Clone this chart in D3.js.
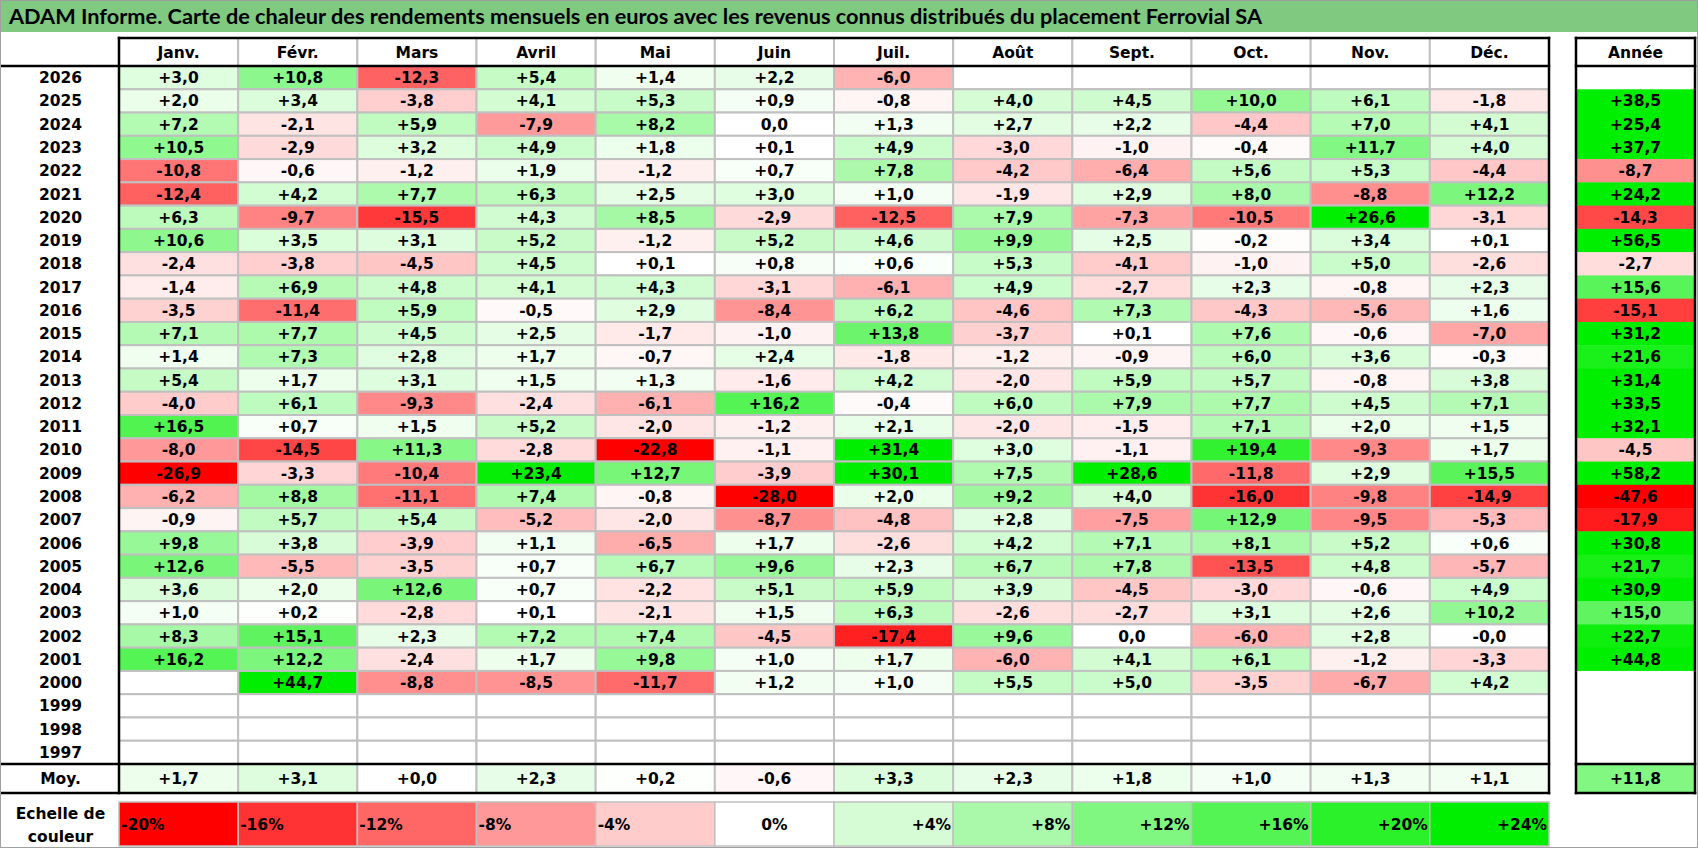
<!DOCTYPE html>
<html>
<head>
<meta charset="utf-8">
<script src="https://cdn.jsdelivr.net/npm/d3@7"></script>
<style>
  body { margin: 0; background: #fff; }
  text { font-family: "DejaVu Sans", Lato, sans-serif; font-weight: bold; fill: #000; }
  text.title { font-family: Lato, "Open Sans", sans-serif; }
</style>
</head>
<body>
<svg id="chart"></svg>
<script>
var title = 'ADAM Informe. Carte de chaleur des rendements mensuels en euros avec les revenus connus distribués du placement Ferrovial SA';

var months = ['Janv.', 'Févr.', 'Mars', 'Avril', 'Mai', 'Juin', 'Juil.', 'Août', 'Sept.', 'Oct.', 'Nov.', 'Déc.'];

var years = [2026, 2025, 2024, 2023, 2022, 2021, 2020, 2019, 2018, 2017,
  2016, 2015, 2014, 2013, 2012, 2011, 2010, 2009, 2008, 2007,
  2006, 2005, 2004, 2003, 2002, 2001, 2000, 1999, 1998, 1997];

// one line per year, same order as years
var monthlyReturns = [
  [3.0, 10.8, -12.3, 5.4, 1.4, 2.2, -6.0, null, null, null, null, null],
  [2.0, 3.4, -3.8, 4.1, 5.3, 0.9, -0.8, 4.0, 4.5, 10.0, 6.1, -1.8],
  [7.2, -2.1, 5.9, -7.9, 8.2, 0, 1.3, 2.7, 2.2, -4.4, 7.0, 4.1],
  [10.5, -2.9, 3.2, 4.9, 1.8, 0.1, 4.9, -3.0, -1.0, -0.4, 11.7, 4.0],
  [-10.8, -0.6, -1.2, 1.9, -1.2, 0.7, 7.8, -4.2, -6.4, 5.6, 5.3, -4.4],
  [-12.4, 4.2, 7.7, 6.3, 2.5, 3.0, 1.0, -1.9, 2.9, 8.0, -8.8, 12.2],
  [6.3, -9.7, -15.5, 4.3, 8.5, -2.9, -12.5, 7.9, -7.3, -10.5, 26.6, -3.1],
  [10.6, 3.5, 3.1, 5.2, -1.2, 5.2, 4.6, 9.9, 2.5, -0.2, 3.4, 0.1],
  [-2.4, -3.8, -4.5, 4.5, 0.1, 0.8, 0.6, 5.3, -4.1, -1.0, 5.0, -2.6],
  [-1.4, 6.9, 4.8, 4.1, 4.3, -3.1, -6.1, 4.9, -2.7, 2.3, -0.8, 2.3],
  [-3.5, -11.4, 5.9, -0.5, 2.9, -8.4, 6.2, -4.6, 7.3, -4.3, -5.6, 1.6],
  [7.1, 7.7, 4.5, 2.5, -1.7, -1.0, 13.8, -3.7, 0.1, 7.6, -0.6, -7.0],
  [1.4, 7.3, 2.8, 1.7, -0.7, 2.4, -1.8, -1.2, -0.9, 6.0, 3.6, -0.3],
  [5.4, 1.7, 3.1, 1.5, 1.3, -1.6, 4.2, -2.0, 5.9, 5.7, -0.8, 3.8],
  [-4.0, 6.1, -9.3, -2.4, -6.1, 16.2, -0.4, 6.0, 7.9, 7.7, 4.5, 7.1],
  [16.5, 0.7, 1.5, 5.2, -2.0, -1.2, 2.1, -2.0, -1.5, 7.1, 2.0, 1.5],
  [-8.0, -14.5, 11.3, -2.8, -22.8, -1.1, 31.4, 3.0, -1.1, 19.4, -9.3, 1.7],
  [-26.9, -3.3, -10.4, 23.4, 12.7, -3.9, 30.1, 7.5, 28.6, -11.8, 2.9, 15.5],
  [-6.2, 8.8, -11.1, 7.4, -0.8, -28.0, 2.0, 9.2, 4.0, -16.0, -9.8, -14.9],
  [-0.9, 5.7, 5.4, -5.2, -2.0, -8.7, -4.8, 2.8, -7.5, 12.9, -9.5, -5.3],
  [9.8, 3.8, -3.9, 1.1, -6.5, 1.7, -2.6, 4.2, 7.1, 8.1, 5.2, 0.6],
  [12.6, -5.5, -3.5, 0.7, 6.7, 9.6, 2.3, 6.7, 7.8, -13.5, 4.8, -5.7],
  [3.6, 2.0, 12.6, 0.7, -2.2, 5.1, 5.9, 3.9, -4.5, -3.0, -0.6, 4.9],
  [1.0, 0.2, -2.8, 0.1, -2.1, 1.5, 6.3, -2.6, -2.7, 3.1, 2.6, 10.2],
  [8.3, 15.1, 2.3, 7.2, 7.4, -4.5, -17.4, 9.6, 0, -6.0, 2.8, -0.04],
  [16.2, 12.2, -2.4, 1.7, 9.8, 1.0, 1.7, -6.0, 4.1, 6.1, -1.2, -3.3],
  [null, 44.7, -8.8, -8.5, -11.7, 1.2, 1.0, 5.5, 5.0, -3.5, -6.7, 4.2],
  [null, null, null, null, null, null, null, null, null, null, null, null],
  [null, null, null, null, null, null, null, null, null, null, null, null],
  [null, null, null, null, null, null, null, null, null, null, null, null]
];

var yearReturns = [null, 38.5, 25.4, 37.7, -8.7, 24.2, -14.3, 56.5, -2.7, 15.6,
  -15.1, 31.2, 21.6, 31.4, 33.5, 32.1, -4.5, 58.2, -47.6, -17.9,
  30.8, 21.7, 30.9, 15.0, 22.7, 44.8, null, null, null, null];

var monthAverages = [1.7, 3.1, 0.02, 2.3, 0.2, -0.6, 3.3, 2.3, 1.8, 1.0, 1.3, 1.1];
var averageYear = 11.8;

var scaleSteps = [-20, -16, -12, -8, -4, 0, 4, 8, 12, 16, 20, 24];

var width = 1698;
var height = 848;
var labelW = 119;
var tableRight = 1549;
var headerTop = 38;
var headerBottom = 66;
var moyTop = 764;
var moyBottom = 793;
var anneeLeft = 1576;
var anneeRight = 1695;
var scaleTop = 802;
var scaleBottom = 846;
var grid = '#c0c0c0';
var fontSize = '15.5px';

var locale = d3.formatLocale({
  decimal: ',', thousands: ' ', grouping: [3], currency: ['', ' €'], minus: '-'
});
var signed = locale.format('+.1f');

function valueLabel(v) {
  return v === 0 ? '0,0' : signed(v);
}

var color = d3.scaleLinear()
  .domain([-20, 0, 24])
  .range(['#ff0000', '#ffffff', '#00ee00'])
  .clamp(true);

var x = d3.scaleBand().domain(months).range([labelW, tableRight]);
var y = d3.scaleBand().domain(years).range([headerBottom, moyTop]);
var xScale = d3.scaleBand().domain(scaleSteps).range([labelW, tableRight]);

var svg = d3.select('#chart')
  .attr('width', width)
  .attr('height', height);

svg.append('rect')
  .attr('width', width).attr('height', height)
  .attr('fill', '#fff');

// title bar
svg.append('rect')
  .attr('x', 0).attr('y', 0)
  .attr('width', width).attr('height', 32)
  .attr('fill', '#80c980');

svg.append('text')
  .attr('class', 'title')
  .attr('x', 9).attr('y', 23.5)
  .attr('textLength', 1253)
  .attr('lengthAdjust', 'spacingAndGlyphs')
  .style('font-size', '20px')
  .text(title);

// month cells
var rows = svg.append('g').selectAll('g')
  .data(years)
  .join('g')
  .attr('transform', function rowPos(d) { return 'translate(0,' + y(d) + ')'; });

rows.selectAll('rect')
  .data(function rowCells(d, i) { return monthlyReturns[i]; })
  .join('rect')
  .attr('x', function cellX(d, i) { return x(months[i]); })
  .attr('width', x.bandwidth())
  .attr('height', y.bandwidth())
  .attr('fill', function cellFill(d) { return d === null ? '#fff' : color(d); })
  .attr('stroke', grid)
  .attr('stroke-width', 2);

rows.selectAll('text.value')
  .data(function rowCells(d, i) { return monthlyReturns[i]; })
  .join('text')
  .attr('class', 'value')
  .attr('x', function textX(d, i) { return x(months[i]) + x.bandwidth() / 2; })
  .attr('y', y.bandwidth() / 2)
  .attr('dy', '0.36em')
  .attr('text-anchor', 'middle')
  .style('font-size', fontSize)
  .text(function cellText(d) { return d === null ? '' : valueLabel(d); });

rows.append('text')
  .attr('x', labelW / 2 + 1)
  .attr('y', y.bandwidth() / 2)
  .attr('dy', '0.36em')
  .attr('text-anchor', 'middle')
  .style('font-size', fontSize)
  .text(function yearText(d) { return d; });

// year column
rows.append('rect')
  .attr('x', anneeLeft)
  .attr('width', anneeRight - anneeLeft)
  .attr('height', y.bandwidth() + 0.5)
  .attr('fill', function yearFill(d, i) {
    return yearReturns[i] === null ? '#fff' : color(yearReturns[i]);
  });

rows.append('text')
  .attr('x', (anneeLeft + anneeRight) / 2)
  .attr('y', y.bandwidth() / 2)
  .attr('dy', '0.36em')
  .attr('text-anchor', 'middle')
  .style('font-size', fontSize)
  .text(function yearValue(d, i) {
    return yearReturns[i] === null ? '' : valueLabel(yearReturns[i]);
  });

// header
var header = svg.append('g');
header.selectAll('rect')
  .data(months)
  .join('rect')
  .attr('x', function hx(d) { return x(d); })
  .attr('y', headerTop)
  .attr('width', x.bandwidth())
  .attr('height', headerBottom - headerTop)
  .attr('fill', '#fff')
  .attr('stroke', grid)
  .attr('stroke-width', 2);

header.selectAll('text')
  .data(months.concat(['Année']))
  .join('text')
  .attr('x', function htx(d, i) {
    return i < 12 ? x(d) + x.bandwidth() / 2 : (anneeLeft + anneeRight) / 2;
  })
  .attr('y', (headerTop + headerBottom) / 2)
  .attr('dy', '0.36em')
  .attr('text-anchor', 'middle')
  .style('font-size', fontSize)
  .text(function ht(d) { return d; });

// averages row
var moy = svg.append('g');
moy.selectAll('rect')
  .data(monthAverages)
  .join('rect')
  .attr('x', function mx(d, i) { return x(months[i]); })
  .attr('y', moyTop)
  .attr('width', x.bandwidth())
  .attr('height', moyBottom - moyTop)
  .attr('fill', function mf(d) { return color(d); })
  .attr('stroke', grid)
  .attr('stroke-width', 2);

moy.selectAll('text.value')
  .data(monthAverages)
  .join('text')
  .attr('class', 'value')
  .attr('x', function mtx(d, i) { return x(months[i]) + x.bandwidth() / 2; })
  .attr('y', (moyTop + moyBottom) / 2)
  .attr('dy', '0.36em')
  .attr('text-anchor', 'middle')
  .style('font-size', fontSize)
  .text(function mt(d) { return valueLabel(d); });

moy.append('rect')
  .attr('x', anneeLeft).attr('y', moyTop)
  .attr('width', anneeRight - anneeLeft)
  .attr('height', moyBottom - moyTop)
  .attr('fill', color(averageYear));

moy.append('text')
  .attr('x', (anneeLeft + anneeRight) / 2)
  .attr('y', (moyTop + moyBottom) / 2)
  .attr('dy', '0.36em')
  .attr('text-anchor', 'middle')
  .style('font-size', fontSize)
  .text(valueLabel(averageYear));

moy.append('text')
  .attr('x', labelW / 2 + 1)
  .attr('y', (moyTop + moyBottom) / 2)
  .attr('dy', '0.36em')
  .attr('text-anchor', 'middle')
  .style('font-size', fontSize)
  .text('Moy.');

// thick borders
var lines = [
  [labelW, headerTop, tableRight, headerTop],
  [0, headerBottom, tableRight, headerBottom],
  [0, moyTop, tableRight, moyTop],
  [0, moyBottom, tableRight, moyBottom],
  [labelW, headerTop, labelW, moyBottom],
  [tableRight, headerTop, tableRight, moyBottom],
  [anneeLeft, headerTop, anneeRight, headerTop],
  [anneeLeft, headerBottom, anneeRight, headerBottom],
  [anneeLeft, moyTop, anneeRight, moyTop],
  [anneeLeft, moyBottom, anneeRight, moyBottom],
  [anneeLeft, headerTop, anneeLeft, moyBottom],
  [anneeRight, headerTop, anneeRight, moyBottom]
];

svg.append('g').selectAll('line')
  .data(lines)
  .join('line')
  .attr('x1', function l1(d) { return d[0]; })
  .attr('y1', function l2(d) { return d[1]; })
  .attr('x2', function l3(d) { return d[2]; })
  .attr('y2', function l4(d) { return d[3]; })
  .attr('stroke', '#000')
  .attr('stroke-width', 2.5)
  .attr('stroke-linecap', 'square');

// colour scale
var legend = svg.append('g');
legend.selectAll('rect')
  .data(scaleSteps)
  .join('rect')
  .attr('x', function lx(d) { return xScale(d); })
  .attr('y', scaleTop)
  .attr('width', xScale.bandwidth())
  .attr('height', scaleBottom - scaleTop)
  .attr('fill', function lf(d) { return color(d); })
  .attr('stroke', grid)
  .attr('stroke-width', 1.5);

legend.selectAll('text.step')
  .data(scaleSteps)
  .join('text')
  .attr('class', 'step')
  .attr('x', function ltx(d) {
    if (d < 0) return xScale(d) + 2;
    if (d > 0) return xScale(d) + xScale.bandwidth() - 2;
    return xScale(d) + xScale.bandwidth() / 2;
  })
  .attr('y', (scaleTop + scaleBottom) / 2)
  .attr('dy', '0.36em')
  .attr('text-anchor', function la(d) { return d < 0 ? 'start' : d > 0 ? 'end' : 'middle'; })
  .style('font-size', fontSize)
  .text(function lt(d) { return (d > 0 ? '+' : '') + d + '%'; });

legend.selectAll('text.caption')
  .data(['Echelle de', 'couleur'])
  .join('text')
  .attr('class', 'caption')
  .attr('x', labelW / 2 + 1)
  .attr('y', function cy(d, i) { return 813 + i * 23; })
  .attr('dy', '0.36em')
  .attr('text-anchor', 'middle')
  .style('font-size', fontSize)
  .text(function ct(d) { return d; });

// outer frame
svg.append('rect')
  .attr('x', 0.5).attr('y', 0.5)
  .attr('width', width - 1).attr('height', height - 1)
  .attr('fill', 'none')
  .attr('stroke', '#a0a0a0');
</script>
</body>
</html>
